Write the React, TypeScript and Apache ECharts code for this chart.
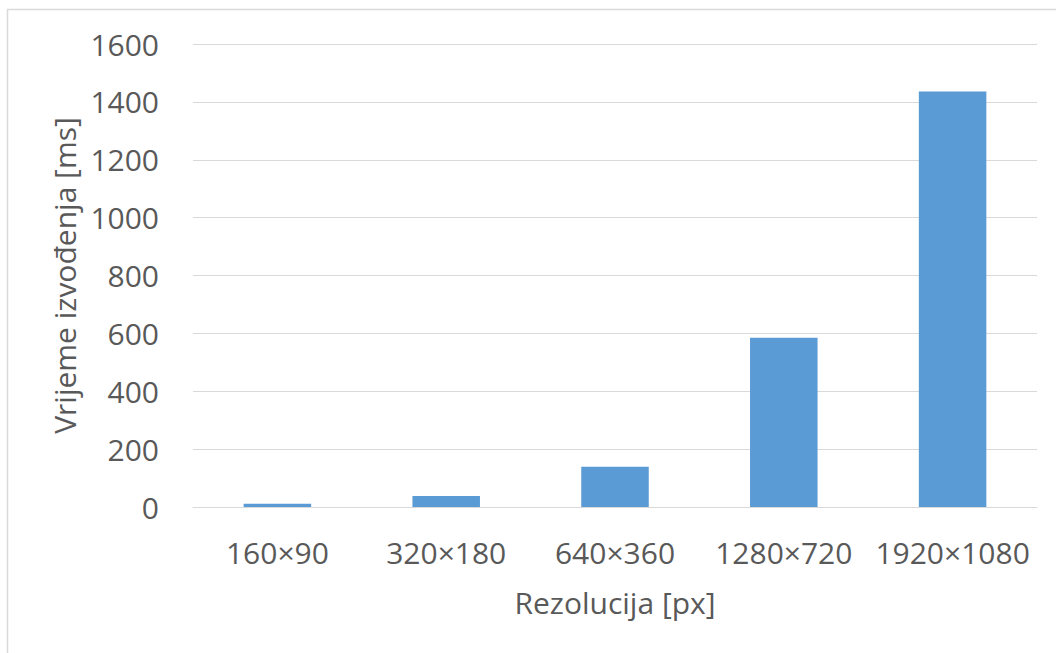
import React, { useEffect, useRef } from "react";
import * as echarts from "echarts";

const categories = ["160×90", "320×180", "640×360", "1280×720", "1920×1080"];
const times = [11, 38, 139, 585, 1436];
const yMin = 0;
const yMax = 1600;
const yStep = 200;
const xTitle = "Rezolucija [px]";
const yTitle = "Vrijeme izvođenja [ms]";

const FONT = "'Open Sans', 'Noto Sans', sans-serif";
const TEXT = "#595959";
const GRID = "#d9d9d9";

export default function App() {
  const ref = useRef<HTMLDivElement>(null);
  useEffect(() => {
    if (!ref.current) return;
    const chart = echarts.init(ref.current, undefined, { renderer: "svg" });
    chart.setOption({
      animation: false,
      backgroundColor: "#ffffff",
      textStyle: { fontFamily: FONT },
      graphic: [
        {
          type: "rect",
          shape: { x: 7.5, y: 9.5, width: 1200, height: 800 },
          style: { fill: "none", stroke: GRID, lineWidth: 1.5 },
          silent: true,
        },
      ],
      grid: { left: 193, right: 19, top: 44, bottom: 146 },
      xAxis: {
        type: "category",
        data: categories,
        name: xTitle,
        nameLocation: "middle",
        nameGap: 80,
        nameTextStyle: { color: TEXT, fontSize: 30, fontFamily: FONT },
        axisLine: { show: true, lineStyle: { color: GRID, width: 1 } },
        axisTick: { show: false },
        axisLabel: { color: TEXT, fontSize: 30, margin: 30, fontFamily: FONT, interval: 0 },
      },
      yAxis: {
        type: "value",
        min: yMin,
        max: yMax,
        interval: yStep,
        name: yTitle,
        nameLocation: "middle",
        nameGap: 110,
        nameTextStyle: { color: TEXT, fontSize: 30, fontFamily: FONT },
        axisLine: { show: false },
        axisTick: { show: false },
        axisLabel: {
          color: TEXT,
          fontSize: 30,
          margin: 34,
          fontFamily: FONT,
          formatter: (v: number) => String(v),
        },
        splitLine: { lineStyle: { color: GRID, width: 1 } },
      },
      series: [
        {
          type: "bar",
          data: times,
          barWidth: "40%",
          itemStyle: { color: "#5b9bd5" },
        },
      ],
    });
    return () => chart.dispose();
  }, []);
  return (
    <div
      ref={ref}
      style={{ position: "absolute", left: 0, top: 0, width: 1056, height: 653 }}
    />
  );
}
